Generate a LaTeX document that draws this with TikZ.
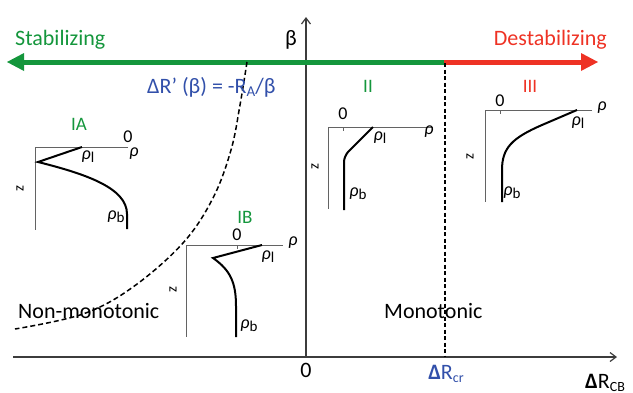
\documentclass[tikz,border=0pt]{standalone}
\usepackage{fontspec}
\setmainfont{Carlito}
\usetikzlibrary{arrows.meta}
\definecolor{stabgreen}{RGB}{20,150,60}
\definecolor{destred}{RGB}{238,50,36}
\definecolor{formblue}{RGB}{50,80,170}
\definecolor{axgray}{RGB}{60,60,60}
\newcommand\rr{\textit{ρ}}
\newcommand\lsub[1]{\raisebox{-0.35ex}{\fontsize{15}{15}\selectfont #1}}
\newcommand\msub[1]{\raisebox{-0.35ex}{\fontsize{14}{14}\selectfont #1}}
\begin{document}
\begin{tikzpicture}[x=1pt,y=-1pt,
  bigtxt/.style={inner sep=0pt,font=\fontsize{22}{22}\selectfont},
  midtxt/.style={inner sep=0pt,font=\fontsize{19}{19}\selectfont},
  smtxt/.style={inner sep=0pt,font=\fontsize{18}{18}\selectfont},
  zlab/.style={inner sep=0pt,rotate=90,font=\fontsize{15}{15}\selectfont},
  mainaxis/.style={draw=axgray,line width=1.2pt,-{Straight Barb[length=6pt,width=9pt]}},
  paxis/.style={draw=axgray!80,line width=0.9pt},
  prof/.style={draw=black,line width=2pt},
  bigarrow/.style={line width=5pt},
]
\useasboundingbox (0,0) rectangle (633,392);

% main axes
\coordinate (xs) at (13,357);
\coordinate (xe) at (617,357);
\coordinate (ys) at (306,357);
\coordinate (ye) at (306,17);
\draw[mainaxis] (xs) -- (xe);
\draw[mainaxis] (ys) -- (ye);
\node[bigtxt] (beta) at (291,40) {β};

% stabilizing / destabilizing arrows
\coordinate (gl) at (22,62);
\coordinate (mid) at (444,62);
\coordinate (rr) at (583,62);
\draw[stabgreen,bigarrow] (gl) -- (mid);
\draw[destred,bigarrow] (mid) -- (rr);
\fill[stabgreen] (7,62) -- (24,53) -- (24,71) -- cycle;
\fill[destred] (598,62) -- (581,53) -- (581,71) -- cycle;
\node[bigtxt,text=stabgreen,anchor=west] (stab) at (15,40) {Stabilizing};
\node[bigtxt,text=destred,anchor=east] (dest) at (607,40) {Destabilizing};

% critical dashed line
\coordinate (dct) at (445,63);
\coordinate (dcb) at (445,357);
\draw[black,line width=1.5pt,dash pattern=on 4pt off 2.5pt] (dct) -- (dcb);

% dashed boundary curve
\draw[black,line width=1.5pt,dash pattern=on 5pt off 3pt]
  plot[smooth,tension=0.6] coordinates {(247,62) (240,105) (231,150) (213,198) (183,243) (133,287) (83,314) (15,329)};
\node[bigtxt,text=formblue,anchor=west] (form) at (147,87) {ΔR’ (β) = -R\lsub{A}/β};

% region labels
\node[midtxt,text=stabgreen] (IA) at (79,124) {IA};
\node[midtxt,text=stabgreen] (IB) at (245,217) {IB};
\node[midtxt,text=stabgreen] (II) at (368,86) {II};
\node[midtxt,text=destred] (III) at (530,86) {III};

\node[bigtxt,anchor=west] (nonmono) at (18,311) {Non-monotonic};
\node[bigtxt,anchor=west] (mono) at (384,311) {Monotonic};

% axis labels
\node[bigtxt] (zero) at (306,370) {0};
\node[bigtxt,text=formblue] (drcr) at (446,374) {\textbf{Δ}R\msub{cr}};
\node[bigtxt,anchor=west] (drcb) at (585,383) {\textbf{Δ}R\msub{CB}};

% profile IA
\draw[paxis] (128,147) -- (35,147) -- (35,230);
\node[smtxt] (IAz) at (128,137) {0};
\node[smtxt] (IArho) at (134,154) {\rr};
\node[zlab] (IAzl) at (20,189) {z};
\draw[prof,line join=miter] (82,147) -- (38,162) .. controls (86,174) and (127,188) .. (127,214) -- (127,229);
\node[smtxt] (IArl) at (88,157) {\rr\lsub{l}};
\node[smtxt] (IArb) at (116,217) {\rr\lsub{b}};

% profile IB
\draw[paxis] (283,245) -- (186,245) -- (186,337);
\draw[paxis] (237,245) -- (237,249);
\node[smtxt] (IBz) at (237,235) {0};
\node[smtxt] (IBrho) at (293,243) {\rr};
\node[zlab] (IBzl) at (173,290) {z};
\draw[prof,line join=miter] (262,245) -- (213,258) .. controls (230,270) and (236,282) .. (236,306) -- (236,337);
\node[smtxt] (IBrl) at (268,257) {\rr\lsub{l}};
\node[smtxt] (IBrb) at (249,326) {\rr\lsub{b}};

% profile II
\draw[paxis] (433,127) -- (328,127) -- (328,209);
\draw[paxis] (343,127) -- (343,131);
\node[smtxt] (IIz) at (343,114) {0};
\node[smtxt] (IIrho) at (429,132) {\rr};
\node[zlab] (IIzl) at (315,167) {z};
\draw[prof,rounded corners=6pt] (373,127) -- (344,156) -- (344,210);
\node[smtxt] (IIrl) at (380,138) {\rr\lsub{l}};
\node[smtxt] (IIrb) at (358,194) {\rr\lsub{b}};

% profile III
\draw[paxis] (592,110) -- (485,110) -- (485,202);
\draw[paxis] (500,110) -- (500,114);
\node[smtxt] (IIIz) at (500,101) {0};
\node[smtxt] (IIIrho) at (602,108) {\rr};
\node[zlab] (IIIzl) at (470,157) {z};
\draw[prof] (577,110) -- (542,125) .. controls (512,138) and (502,148) .. (502,170) -- (502,202);
\node[smtxt] (IIIrl) at (578,123) {\rr\lsub{l}};
\node[smtxt] (IIIrb) at (512,193) {\rr\lsub{b}};
\end{tikzpicture}
\end{document}
